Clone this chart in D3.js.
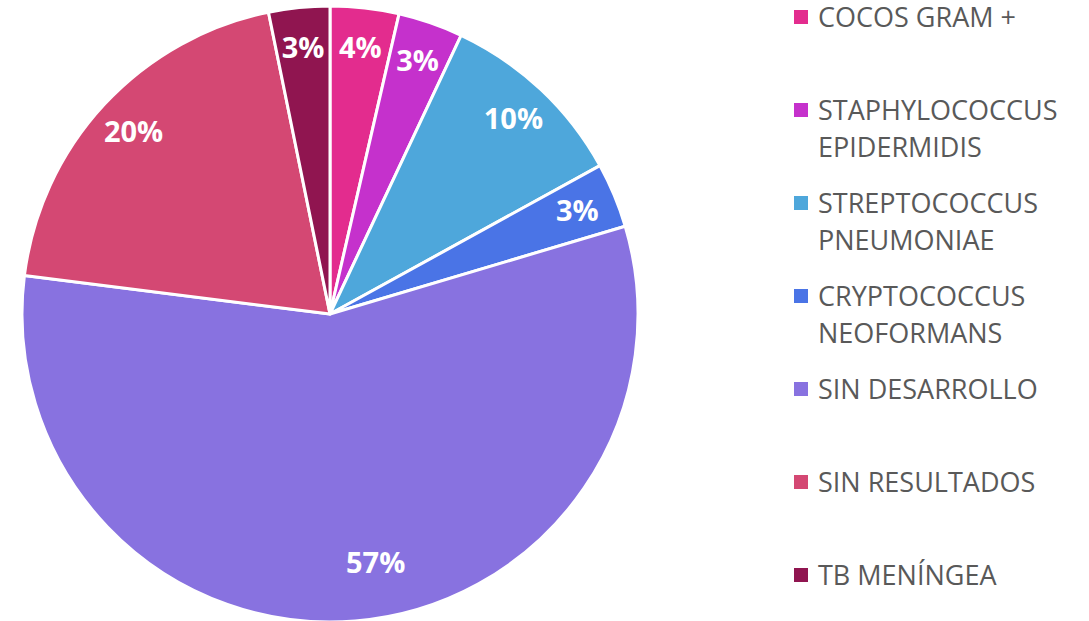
<!DOCTYPE html>
<html>
<head>
<meta charset="utf-8">
<script src="https://cdn.jsdelivr.net/npm/d3@7"></script>
<style>
  body { margin: 0; background: #fff; }
  svg { display: block; }
</style>
</head>
<body>
<div id="chart"></div>
<script>
// chart data
const categories = ['COCOS GRAM +', 'STAPHYLOCOCCUS EPIDERMIDIS', 'STREPTOCOCCUS PNEUMONIAE',
  'CRYPTOCOCCUS NEOFORMANS', 'SIN DESARROLLO', 'SIN RESULTADOS', 'TB MENÍNGEA']
const values = [3.6, 3.4, 10.0, 3.4, 56.6, 19.8, 3.2]
const colors = ['#E32C8E', '#C531CC', '#4EA7DB', '#4A74E6', '#8872E0', '#D44873', '#901550']

const width = 1089,
height = 621,
cx = 330,
cy = 314,
radius = 308

let svg = d3.select('#chart')
.append('svg')
.attr('width', width)
.attr('height', height)

const data = categories.map((c, i) => ({ name: c, value: values[i], color: colors[i] }))
const total = d3.sum(values)

const pie = d3.pie()
.sort(null)
.value(d => d.value)

const arc = d3.arc()
.innerRadius(0)
.outerRadius(radius)

const labelArc = d3.arc()
.innerRadius(radius * 0.87)
.outerRadius(radius * 0.87)

let g = svg.append('g')
.attr('transform', `translate(${cx},${cy})`)

g.selectAll('path')
.data(pie(data))
.enter()
.append('path')
.attr('d', arc)
.attr('fill', d => d.data.color)
.attr('stroke', '#fff')
.attr('stroke-width', 3)
.attr('stroke-linejoin', 'round')

g.selectAll('text.pct')
.data(pie(data))
.enter()
.append('text')
.attr('class', 'pct')
.attr('transform', d => {
  // big slice label sits a bit further in and right, like Excel's best fit
  let p = d.data.value > 50
    ? d3.arc().innerRadius(radius * 0.82).outerRadius(radius * 0.82)
        .centroid({ startAngle: d.startAngle, endAngle: d.endAngle - 0.2 })
    : labelArc.centroid(d)
  return `translate(${p[0]},${p[1]})`
})
.attr('text-anchor', 'middle')
.attr('dy', '0.36em')
.attr('fill', '#fff')
.style('font-family', '"Open Sans", sans-serif')
.style('font-weight', 700)
.style('font-size', '29px')
.text(d => Math.round(d.data.value / total * 100) + '%')

// legend
const legendX = 794, legendY = 17, step = 93, lineH = 37, maxW = 260

let legend = svg.append('g')

data.forEach((d, i) => {
  let y = legendY + i * step
  legend.append('rect')
  .attr('x', legendX)
  .attr('y', y - 7)
  .attr('width', 14)
  .attr('height', 14)
  .attr('fill', d.color)

  let t = legend.append('text')
  .attr('x', legendX + 24)
  .attr('y', y + 9.5)
  .attr('fill', '#595959')
  .style('font-family', '"Open Sans", sans-serif')
  .style('font-size', '27px')

  // wrap words into lines
  let words = d.name.split(' '), line = []
  let ts = t.append('tspan').attr('x', legendX + 24)
  words.forEach(w => {
    line.push(w)
    ts.text(line.join(' '))
    if (ts.node().getComputedTextLength() > maxW && line.length > 1) {
      line.pop()
      ts.text(line.join(' '))
      line = [w]
      ts = t.append('tspan').attr('x', legendX + 24).attr('dy', lineH).text(w)
    }
  })
})
</script>
</body>
</html>
